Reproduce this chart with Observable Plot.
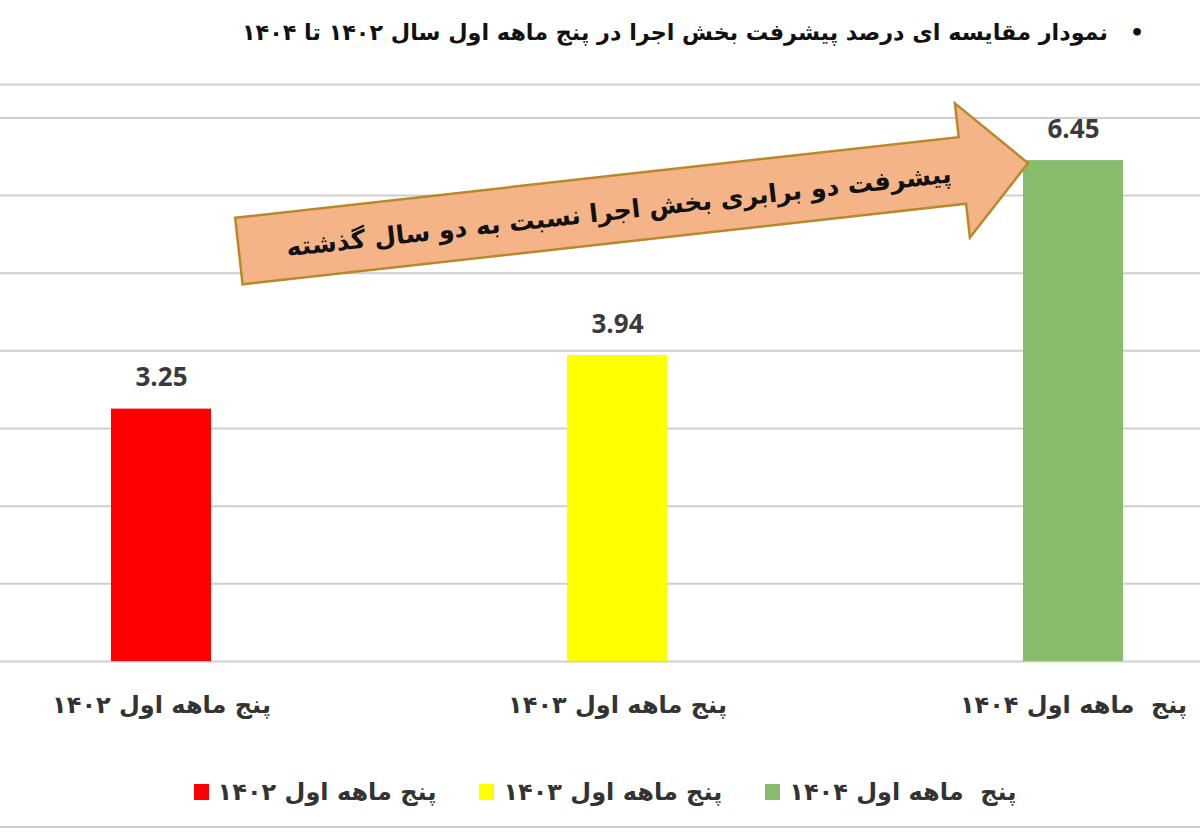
<!DOCTYPE html>
<html>
<head>
<meta charset="utf-8">
<script src="https://cdn.jsdelivr.net/npm/d3@7"></script>
<script src="https://cdn.jsdelivr.net/npm/@observablehq/plot@0.6"></script>
<style>
  html, body { margin: 0; padding: 0; background: #ffffff; }
  body { width: 1200px; height: 836px; position: relative; overflow: hidden; font-family: "DejaVu Sans", sans-serif; }
  #title { height: 60px; box-sizing: border-box; padding-right: 56px; direction: rtl; text-align: right;
           font-weight: bold; font-size: 22.3px; line-height: 64px; color: #111; white-space: nowrap; }
  #title .bullet { display: inline-block; margin-left: 22px; font-size: 22px; }
  #chart { height: 700px; }
  #legend { position: absolute; left: 0; top: 778px; width: 1200px; display: flex; justify-content: center;
            align-items: center; gap: 43px; padding-left: 10px; box-sizing: border-box; direction: ltr; }
  .item { display: flex; align-items: center; gap: 9px; }
  .sw { width: 15px; height: 16px; }
  .lab { direction: rtl; font-weight: bold; font-size: 24px; color: #333; white-space: pre; }
  #bottomline { position: absolute; left: 0; top: 826px; width: 1200px; height: 2px; background: #cfcfcf; }
</style>
</head>
<body>
<div id="title"></div>
<div id="chart"></div>
<div id="legend"></div>
<div id="bottomline"></div>
<script>
// ---- data ----
const categories = ["پنج ماهه اول ۱۴۰۲", "پنج ماهه اول ۱۴۰۳", "پنج  ماهه اول ۱۴۰۴"];
const values = [3.25, 3.94, 6.45];
const valueLabels = ["3.25", "3.94", "6.45"];
const barColors = ["#ff0000", "#ffff00", "#86bc6c"];
const yTicks = [0, 1, 2, 3, 4, 5, 6, 7];
const titleText = "نمودار مقایسه ای درصد پیشرفت بخش اجرا در پنج ماهه  اول سال ۱۴۰۲ تا ۱۴۰۴";
const arrowText = "پیشرفت دو برابری بخش اجرا نسبت به دو سال گذشته";
const arrowTarget = {category: categories[2], value: values[2]};

const data = categories.map((c, i) => ({category: c, value: values[i], label: valueLabels[i]}));

// ---- title ----
const t = document.getElementById("title");
t.innerHTML = '<span class="bullet">•</span>' + titleText;

// ---- chart ----
const persianFont = "DejaVu Sans";
const plot = Plot.plot({
  width: 1200,
  height: 700,
  marginTop: 24,
  marginBottom: 99,
  marginLeft: 0,
  marginRight: 0,
  style: {background: "#ffffff", overflow: "visible"},
  x: {domain: categories, paddingInner: 0.781, paddingOuter: 0.205, align: 0.59},
  y: {domain: [0, 7.43]},
  color: {domain: categories, range: barColors},
  marks: [
    Plot.gridY(yTicks, {stroke: "#cfcfcf", strokeOpacity: 1, strokeWidth: 2}),
    Plot.frame({anchor: "top", stroke: "#cfcfcf", strokeWidth: 2}),
    Plot.barY(data, {x: "category", y: "value", fill: "category"}),
    Plot.text(data, {x: "category", y: "value", text: "label", dy: -31,
      fontFamily: "Open Sans", fontWeight: 700, fontSize: 26, fill: "#3a3a3a", letterSpacing: 2}),
    Plot.axisX({tickSize: 0, tickPadding: 34, fontSize: 24, fontWeight: "bold",
      fontFamily: persianFont, fill: "#333", label: null}),
    Plot.axisY({ticks: [], label: null, tickSize: 0})
  ]
});
document.getElementById("chart").appendChild(plot);

// ---- arrow annotation (anchored on the 1404 bar top through the plot's scales) ----
const xs = plot.scale("x"), ys = plot.scale("y");
const tip = [xs.apply(arrowTarget.category) + 5, ys.apply(arrowTarget.value) + 3];
const ang = -6.36 * Math.PI / 180;
const len = 794, shaft = 67, headLen = 66, headW = 135;
const u = [Math.cos(ang), Math.sin(ang)], n = [-Math.sin(ang), Math.cos(ang)];
const P = (p, a, v) => [p[0] + a * v[0], p[1] + a * v[1]];
const B = P(tip, -headLen, u), A = P(tip, -len, u);
const pts = [P(A, -shaft / 2, n), P(B, -shaft / 2, n), P(B, -headW / 2, n), tip,
             P(B, headW / 2, n), P(B, shaft / 2, n), P(A, shaft / 2, n)];
const svg = d3.select(plot);
const g = svg.append("g");
g.append("path").attr("d", "M" + pts.map(p => p.join(",")).join("L") + "Z")
  .attr("fill", "#f5b488").attr("stroke", "#b8892a").attr("stroke-width", 2.5).attr("stroke-linejoin", "miter");
const C = P(P(A, 382, u), 2, n);
g.append("text").attr("transform", `translate(${C[0]},${C[1]}) rotate(${ang * 180 / Math.PI})`)
  .attr("text-anchor", "middle").attr("dominant-baseline", "central").attr("direction", "rtl")
  .attr("font-family", persianFont).attr("font-weight", "bold").attr("font-size", 25.2).attr("fill", "#111")
  .text(arrowText);

// ---- legend ----
const lg = document.getElementById("legend");
categories.forEach((c, i) => {
  const it = document.createElement("div"); it.className = "item";
  const sw = document.createElement("div"); sw.className = "sw"; sw.style.background = barColors[i];
  const lb = document.createElement("div"); lb.className = "lab"; lb.textContent = c;
  it.appendChild(sw); it.appendChild(lb); lg.appendChild(it);
});
</script>
</body>
</html>
